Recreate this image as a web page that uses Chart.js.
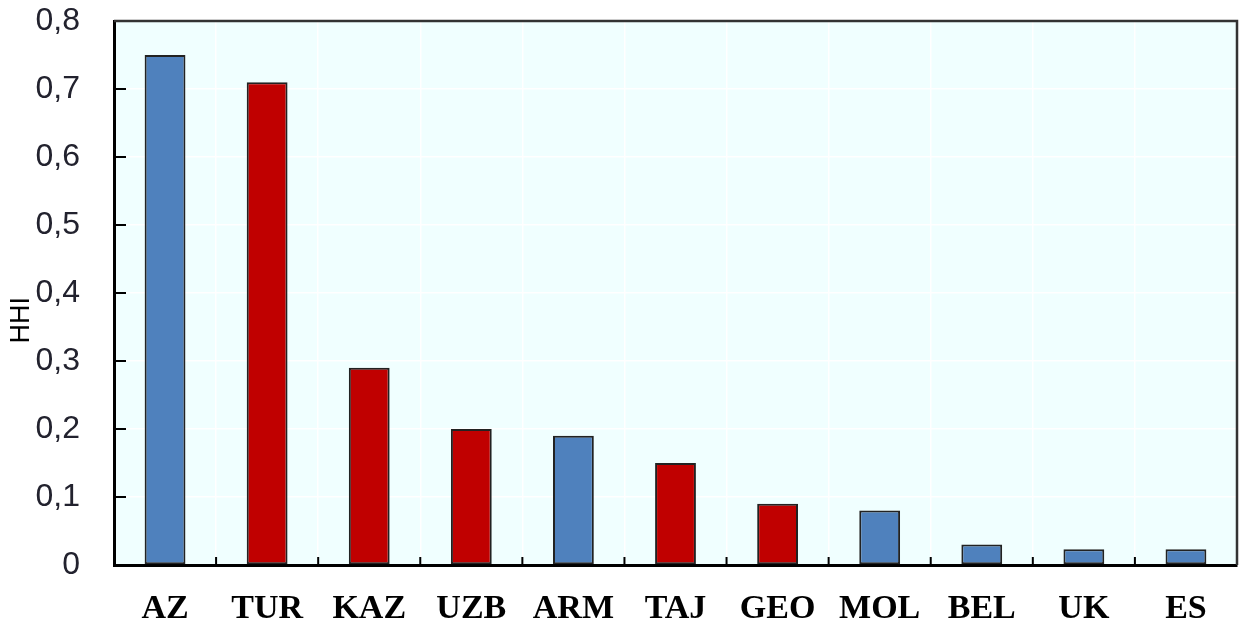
<!DOCTYPE html>
<html>
<head>
<meta charset="utf-8">
<script src="https://cdn.jsdelivr.net/npm/chart.js@4"></script>
<style>
  html, body { margin: 0; padding: 0; background: #fff; }
  #wrap { width: 1241px; height: 631px; }
</style>
</head>
<body>
<div id="wrap"><canvas id="myChart"></canvas></div>
<script>
const countries = ['AZ', 'TUR', 'KAZ', 'UZB', 'ARM', 'TAJ', 'GEO', 'MOL', 'BEL', 'UK', 'ES'];
const hhi = [0.75, 0.71, 0.29, 0.20, 0.19, 0.15, 0.09, 0.08, 0.03, 0.023, 0.023];
const groups = ['b', 'r', 'r', 'r', 'b', 'r', 'r', 'b', 'b', 'b', 'b'];
const groupColors = { b: '#4f81bd', r: '#c00000' };
const yTitle = 'HHI';

// background, frame, inward ticks and the axis title
const framePlugin = {
    id: 'frame',
    beforeDraw(chart) {
        const a = chart.chartArea;
        const ctx = chart.ctx;
        ctx.save();
        ctx.fillStyle = '#f0ffff';
        ctx.fillRect(a.left, a.top, a.right - a.left, a.bottom - a.top);
        ctx.restore();
    },
    afterDraw(chart) {
        const a = chart.chartArea;
        const ctx = chart.ctx;
        const y = chart.scales.y;
        const x = chart.scales.x;
        ctx.save();
        ctx.strokeStyle = '#333';
        ctx.lineWidth = 2.5;
        ctx.beginPath();
        ctx.moveTo(a.left, a.top);
        ctx.lineTo(a.right, a.top);
        ctx.lineTo(a.right, a.bottom);
        ctx.stroke();
        ctx.strokeStyle = '#000';
        ctx.lineWidth = 2;
        ctx.beginPath();
        y.ticks.forEach(t => {
            if (t.value <= 0 || t.value >= 0.8) return;
            const py = y.getPixelForValue(t.value);
            ctx.moveTo(a.left, py);
            ctx.lineTo(a.left + 12, py);
        });
        for (let i = 1; i < countries.length; i++) {
            const px = (x.getPixelForValue(i - 1) + x.getPixelForValue(i)) / 2;
            ctx.moveTo(px, a.bottom);
            ctx.lineTo(px, a.bottom - 8);
        }
        ctx.stroke();

        // rotated y title
        ctx.translate(22, y.getPixelForValue(0.36));
        ctx.rotate(-Math.PI / 2);
        ctx.fillStyle = '#000';
        ctx.font = '27px "Liberation Sans", Arial, sans-serif';
        ctx.textAlign = 'center';
        ctx.textBaseline = 'middle';
        ctx.fillText(yTitle, 0, 0);
        ctx.restore();
    }
};

new Chart(document.getElementById('myChart'), {
    type: 'bar',
    data: {
        labels: countries,
        datasets: [{
            label: yTitle,
            data: hhi,
            backgroundColor: groups.map(g => groupColors[g]),
            borderColor: '#222',
            borderWidth: 2,
            borderSkipped: false,
            categoryPercentage: 1,
            barPercentage: 0.4
        }]
    },
    options: {
        responsive: true,
        maintainAspectRatio: false,
        animation: false,
        layout: { padding: { top: 21, right: 4, left: 0, bottom: 0 } },
        plugins: {
            legend: { display: false },
            tooltip: { enabled: false }
        },
        scales: {
            x: {
                offset: true,
                grid: { offset: true, color: 'rgba(255,255,255,0.95)', lineWidth: 1.5, drawTicks: false },
                border: { color: '#000', width: 3 },
                ticks: {
                    padding: 24,
                    color: '#000',
                    font: { family: '"Liberation Serif", "Times New Roman", serif', size: 34, weight: 'bold' }
                },
                afterFit(scale) {
                    scale.height = 66;
                    scale.paddingLeft = 0;
                    scale.paddingRight = 0;
                }
            },
            y: {
                min: 0,
                max: 0.8,
                grid: { color: 'rgba(255,255,255,0.95)', lineWidth: 1.5, drawTicks: false },
                border: { color: '#000', width: 3 },
                ticks: {
                    stepSize: 0.1,
                    padding: 34,
                    color: '#22222e',
                    font: { family: '"Liberation Sans", Arial, sans-serif', size: 32 },
                    callback: v => v === 0 ? '0' : v.toFixed(1).replace('.', ',')
                },
                afterFit(scale) {
                    scale.width = 114;
                    scale.paddingTop = 0;
                    scale.paddingBottom = 0;
                }
            }
        }
    },
    plugins: [framePlugin]
});
</script>
</body>
</html>
